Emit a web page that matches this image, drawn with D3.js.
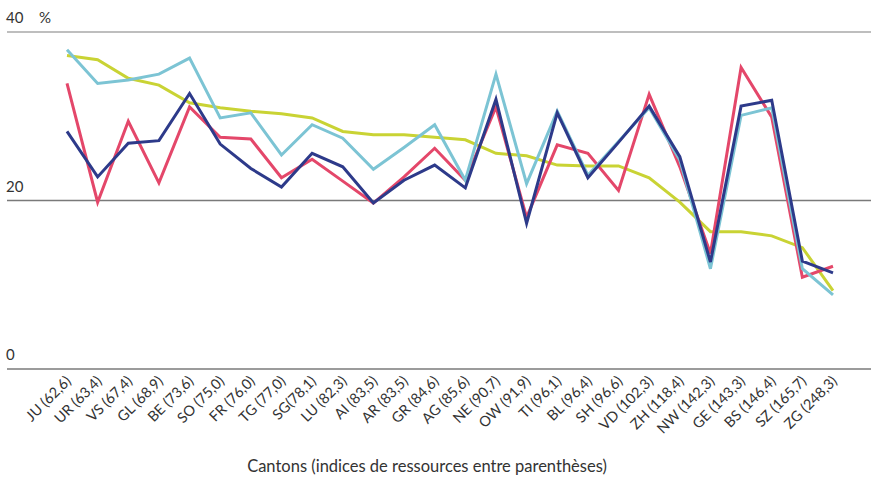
<!DOCTYPE html>
<html>
<head>
<meta charset="utf-8">
<script src="https://cdn.jsdelivr.net/npm/d3@7"></script>
<style>
  html, body { margin: 0; padding: 0; background: #fff; }
  svg { display: block; font-family: Lato, "Open Sans", sans-serif; }
</style>
</head>
<body>
<svg id="chart" width="871" height="484"></svg>
<script>
const cantons = ["JU (62,6)","UR (63,4)","VS (67,4)","GL (68,9)","BE (73,6)","SO (75,0)","FR (76,0)","TG (77,0)","SG(78,1)","LU (82,3)","AI (83,5)","AR (83,5)","GR (84,6)","AG (85,6)","NE (90,7)","OW (91,9)","TI (96,1)","BL (96,4)","SH (96,6)","VD (102,3)","ZH (118,4)","NW (142,3)","GE (143,3)","BS (146,4)","SZ (165,7)","ZG (248,3)"];

const seriesYellow   = [37.2,36.7,34.5,33.7,31.6,31.0,30.6,30.3,29.8,28.2,27.8,27.8,27.5,27.2,25.6,25.3,24.2,24.1,24.1,22.7,19.8,16.3,16.3,15.8,14.4,9.3];
const seriesRed      = [33.9,19.8,29.4,22.1,31.1,27.5,27.3,22.7,24.9,22.3,19.7,22.8,26.2,22.4,31.1,18.0,26.6,25.6,21.2,32.6,24.0,13.7,35.8,29.9,10.9,12.2];
const seriesLightBlue= [37.9,33.9,34.3,35.0,36.9,29.8,30.4,25.4,29.0,27.4,23.7,26.3,29.0,22.4,35.0,22.0,30.6,23.0,27.0,31.0,24.8,11.9,30.1,31.0,11.9,8.8];
const seriesDarkBlue = [28.2,22.8,26.8,27.1,32.7,26.7,23.8,21.6,25.6,24.0,19.7,22.4,24.2,21.5,32.0,17.3,30.4,22.7,26.9,31.2,25.2,12.7,31.2,31.9,12.8,11.4];

const yTicks = [0, 20, 40];
const yUnit = "%";
const xTitle = "Cantons (indices de ressources entre parenthèses)";

const series = [
  {values: seriesYellow, color: "#c9d334"},
  {values: seriesRed, color: "#e4476a"},
  {values: seriesLightBlue, color: "#7cc4d4"},
  {values: seriesDarkBlue, color: "#2d3a8a"}
];

const svg = d3.select("#chart");
const x = d3.scalePoint().domain(cantons).range([67, 833]);
const y = d3.scaleLinear().domain([0, 40]).range([369, 32]);

// gridlines
svg.append("g").selectAll("line").data(yTicks).join("line")
  .attr("x1", 7).attr("x2", 871)
  .attr("y1", d => y(d)).attr("y2", d => y(d))
  .attr("stroke", d => d === 40 ? "#a8a8a8" : "#7a7a7a")
  .attr("stroke-width", d => d === 40 ? 1.6 : 1.3);

// y labels
svg.append("g").selectAll("text").data(yTicks).join("text")
  .attr("x", 6).attr("y", d => y(d) - 9)
  .attr("font-size", 15).attr("fill", "#333")
  .text(d => d);
svg.append("text").attr("x", 39).attr("y", y(40) - 9)
  .attr("font-size", 15).attr("fill", "#333").text(yUnit);

// x labels
svg.append("g").selectAll("text").data(cantons).join("text")
  .attr("transform", d => `translate(${x(d) + 5},${y(0) + 13}) rotate(-45)`)
  .attr("text-anchor", "end")
  .attr("font-size", 14.5).attr("fill", "#333")
  .text(d => d);

svg.append("text").attr("x", 427).attr("y", 472)
  .attr("text-anchor", "middle").attr("font-size", 16.5).attr("fill", "#333")
  .text(xTitle);

const line = d3.line().x((d, i) => x(cantons[i])).y(d => y(d));
svg.append("g").selectAll("path").data(series).join("path")
  .attr("d", d => line(d.values))
  .attr("fill", "none")
  .attr("stroke", d => d.color)
  .attr("stroke-width", 3)
  .attr("stroke-linejoin", "miter");
</script>
</body>
</html>
